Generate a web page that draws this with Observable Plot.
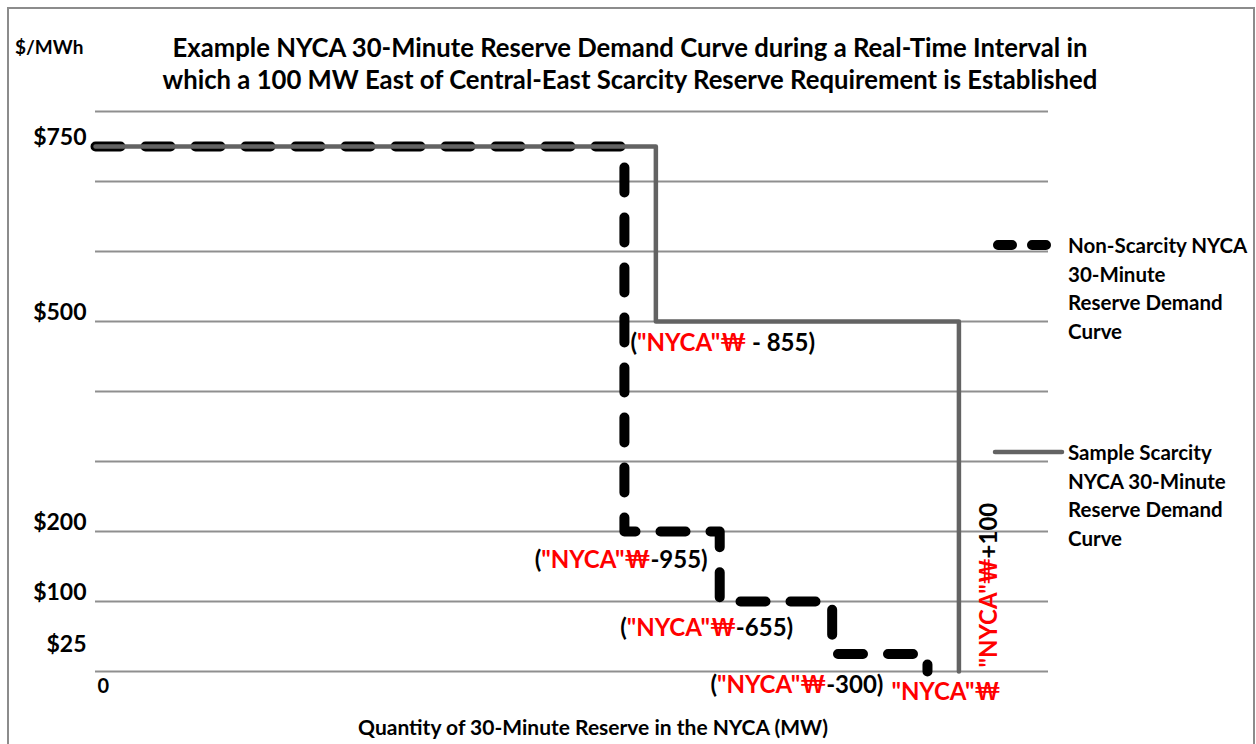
<!DOCTYPE html>
<html>
<head>
<meta charset="utf-8">
<script src="https://cdn.jsdelivr.net/npm/d3@7"></script>
<script src="https://cdn.jsdelivr.net/npm/@observablehq/plot@0.6"></script>
<style>
  body { margin: 0; background: #fff; font-family: Lato, "DejaVu Sans", sans-serif; color: #000; }
  #wrap { position: relative; width: 1256px; height: 744px; overflow: hidden; background: #fff; }
  #frame { position: absolute; left: 7px; top: 7px; width: 1248px; height: 820px; border: 2px solid #8c8c8c; box-sizing: border-box; pointer-events: none; }
  #chart { position: absolute; left: 0; top: 0; }
  .t { position: absolute; font-weight: 700; white-space: nowrap; }
  #title { left: 130px; width: 1000px; top: 31px; text-align: center; font-size: 25.7px; line-height: 32px; }
  #unit { left: 15px; top: 36px; font-size: 19px; line-height: 22px; }
  #xtitle { left: 293px; width: 600px; top: 715px; text-align: center; font-size: 21px; line-height: 24px; }
  .legtext { left: 1068px; font-size: 20.5px; line-height: 28.5px; }
  #leg1 { top: 231px; }
  #leg2 { top: 438px; }
  #legsvg { position: absolute; left: 0; top: 0; }
</style>
</head>
<body>
<div id="wrap">
  <div id="chart"></div>
  <div id="title" class="t"></div>
  <div id="unit" class="t"></div>
  <div id="xtitle" class="t"></div>
  <svg id="legsvg" width="1256" height="744"></svg>
  <div id="leg1" class="t legtext"></div>
  <div id="leg2" class="t legtext"></div>
  <div id="frame"></div>
</div>
<script>
// ---- data ----
const titleLines = [
  "Example NYCA 30-Minute Reserve Demand Curve during a Real-Time Interval in",
  "which a 100 MW East of Central-East Scarcity Reserve Requirement is Established"
];
const unitLabel = "$/MWh";
const xAxisTitle = "Quantity of 30-Minute Reserve in the NYCA (MW)";
const gridValues = [0, 100, 200, 300, 400, 500, 600, 700, 800];
const priceTicks = [25, 100, 200, 500, 750];
const qtyTicks = [0];

// Non-scarcity curve (step-after points: quantity, price)
const nonScarcityQty = [0, 555, 655, 773, 873];
const nonScarcityPrice = [750, 200, 100, 25, 0];
// Sample scarcity curve
const scarcityQty = [0, 588, 906];
const scarcityPrice = [750, 500, 0];

const legendNames = [
  ["Non-Scarcity NYCA", "30-Minute", "Reserve Demand", "Curve"],
  ["Sample Scarcity", "NYCA 30-Minute", "Reserve Demand", "Curve"]
];

const annotationText = ['("NYCA"\u20A9 - 855)', '("NYCA"\u20A9-955)', '("NYCA"\u20A9-655)', '("NYCA"\u20A9-300)', '"NYCA"\u20A9', '"NYCA"\u20A9+100'];
const annotationQty = [555, 655, 773, 873, 906, 906];
const annotationPrice = [500, 200, 100, 0, 0, 0];

// ---- build ----
const nonScarcity = nonScarcityQty.map((q, i) => ({q, p: nonScarcityPrice[i]}));
const scarcity = scarcityQty.map((q, i) => ({q, p: scarcityPrice[i]}));
const annotations = annotationText.map((text, i) => ({text, q: annotationQty[i], p: annotationPrice[i]}));

const FS = 24;
function label(i, opts) {
  return Plot.text([annotations[i]], {x: "q", y: "p", text: "text", fontSize: FS, fontWeight: "bold", fill: "#000", lineAnchor: "middle", ...opts});
}

const chart = Plot.plot({
  width: 1256,
  height: 744,
  marginLeft: 95,
  marginRight: 208,
  marginTop: 111,
  marginBottom: 73,
  style: {fontFamily: "Lato, 'DejaVu Sans', sans-serif", fontWeight: "bold", background: "transparent", overflow: "visible", color: "#000"},
  x: {domain: [0, 1000], axis: null},
  y: {domain: [0, 800], axis: null},
  marks: [
    Plot.ruleY(gridValues, {stroke: "#8f8f8f", strokeWidth: 2}),
    Plot.axisY({ticks: priceTicks, tickFormat: d => "$" + d, tickSize: 0, tickPadding: 9, dy: -9, fontSize: 23, fontWeight: "bold", label: null, fill: "#000"}),
    Plot.axisX({ticks: qtyTicks, tickFormat: d => String(d), tickSize: 0, tickPadding: 7, textAnchor: "start", dx: 2, fontSize: 20, fontWeight: "bold", label: null, fill: "#000"}),
    Plot.line(nonScarcity, {x: "q", y: "p", curve: "step-after", stroke: "#000", strokeWidth: 10, strokeDasharray: "25,25", strokeLinecap: "round", strokeLinejoin: "round"}),
    Plot.line(scarcity, {x: "q", y: "p", curve: "step-after", stroke: "#636363", strokeWidth: 4.5}),
    label(0, {textAnchor: "start", dx: 6, dy: 22}),
    label(1, {textAnchor: "end", dx: -12, dy: 29}),
    label(2, {textAnchor: "end", dx: -39, dy: 27}),
    label(3, {textAnchor: "end", dx: -44, dy: 14}),
    label(4, {textAnchor: "middle", dx: -13, dy: 21}),
    label(5, {textAnchor: "start", rotate: -90, dx: 30, dy: -4})
  ]
});
document.getElementById("chart").appendChild(chart);

// colour the "NYCA"₩ parts red
d3.select(chart).selectAll("text").each(function() {
  const s = this.textContent;
  if (!s.includes('"NYCA"\u20A9')) return;
  const parts = s.split(/("NYCA"\u20A9)/).filter(x => x.length);
  const el = d3.select(this);
  el.text(null);
  parts.forEach(part => {
    el.append("tspan").attr("fill", part === '"NYCA"\u20A9' ? "#ff0000" : "#000").text(part);
  });
});

document.getElementById("title").innerHTML = titleLines.join("<br>");
document.getElementById("unit").textContent = unitLabel;
document.getElementById("xtitle").textContent = xAxisTitle;
document.getElementById("leg1").innerHTML = legendNames[0].join("<br>");
document.getElementById("leg2").innerHTML = legendNames[1].join("<br>");

// legend samples
const leg = d3.select("#legsvg");
leg.append("line").attr("x1", 998).attr("x2", 1046).attr("y1", 245).attr("y2", 245)
  .attr("stroke", "#000").attr("stroke-width", 10).attr("stroke-linecap", "round").attr("stroke-dasharray", "14,20");
leg.append("line").attr("x1", 995).attr("x2", 1062).attr("y1", 452).attr("y2", 452)
  .attr("stroke", "#636363").attr("stroke-width", 4.5).attr("stroke-linecap", "round");
</script>
</body>
</html>
